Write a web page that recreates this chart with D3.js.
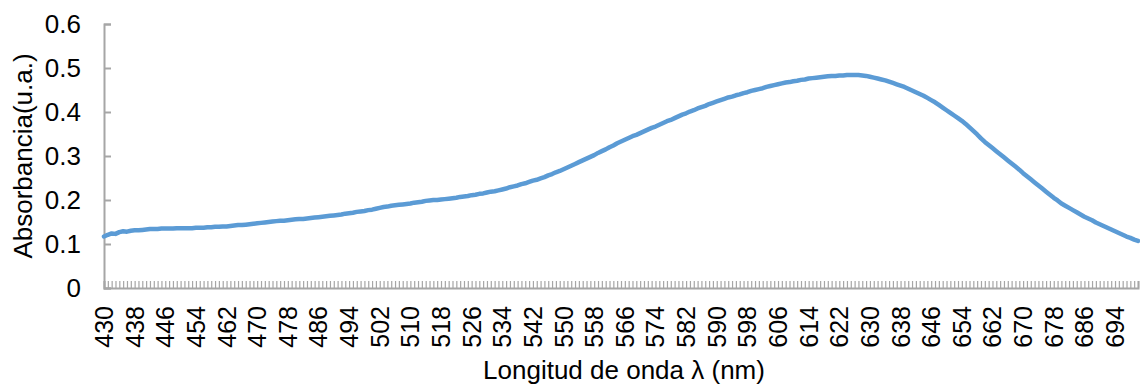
<!DOCTYPE html>
<html>
<head>
<meta charset="utf-8">
<script src="https://cdn.jsdelivr.net/npm/d3@7"></script>
<style>
  html, body { margin: 0; padding: 0; background: #fff; }
  svg { display: block; font-family: Arial, "Liberation Sans", sans-serif; }
</style>
</head>
<body>
<svg id="chart" width="1140" height="386"></svg>
<script>
// Wavelength scan, one reading per nanometre from 430 to 700 nm
const wavelengths = d3.range(430, 701);

const absorbance = [
  0.117, 0.121, 0.124, 0.123, 0.127, 0.129, 0.128, 0.130, 0.131, 0.131, // 430-439
  0.132, 0.133, 0.134, 0.134, 0.134, 0.135, 0.135, 0.135, 0.135, 0.136, // 440-449
  0.136, 0.136, 0.136, 0.136, 0.137, 0.137, 0.137, 0.138, 0.138, 0.139, // 450-459
  0.139, 0.140, 0.140, 0.141, 0.142, 0.143, 0.143, 0.144, 0.145, 0.146, // 460-469
  0.147, 0.148, 0.149, 0.150, 0.151, 0.152, 0.153, 0.153, 0.154, 0.155, // 470-479
  0.156, 0.157, 0.157, 0.158, 0.159, 0.160, 0.161, 0.162, 0.163, 0.164, // 480-489
  0.165, 0.166, 0.167, 0.169, 0.170, 0.171, 0.173, 0.174, 0.175, 0.177, // 490-499
  0.178, 0.180, 0.182, 0.184, 0.185, 0.187, 0.188, 0.189, 0.190, 0.191, // 500-509
  0.192, 0.194, 0.195, 0.196, 0.198, 0.199, 0.200, 0.200, 0.201, 0.202, // 510-519
  0.203, 0.204, 0.205, 0.207, 0.208, 0.209, 0.211, 0.212, 0.214, 0.215, // 520-529
  0.217, 0.219, 0.220, 0.222, 0.224, 0.226, 0.229, 0.231, 0.233, 0.236, // 530-539
  0.238, 0.241, 0.244, 0.246, 0.249, 0.252, 0.256, 0.259, 0.263, 0.266, // 540-549
  0.270, 0.274, 0.278, 0.282, 0.286, 0.290, 0.294, 0.298, 0.302, 0.307, // 550-559
  0.311, 0.315, 0.320, 0.324, 0.329, 0.333, 0.337, 0.341, 0.345, 0.348, // 560-569
  0.352, 0.356, 0.360, 0.364, 0.367, 0.371, 0.375, 0.379, 0.382, 0.386, // 570-579
  0.390, 0.394, 0.397, 0.401, 0.404, 0.408, 0.411, 0.414, 0.418, 0.421, // 580-589
  0.424, 0.427, 0.430, 0.433, 0.435, 0.438, 0.440, 0.443, 0.445, 0.448, // 590-599
  0.450, 0.452, 0.454, 0.457, 0.459, 0.461, 0.463, 0.465, 0.467, 0.468, // 600-609
  0.470, 0.471, 0.473, 0.474, 0.476, 0.477, 0.478, 0.479, 0.480, 0.481, // 610-619
  0.482, 0.482, 0.483, 0.483, 0.484, 0.484, 0.484, 0.484, 0.483, 0.482, // 620-629
  0.480, 0.478, 0.476, 0.474, 0.472, 0.469, 0.466, 0.463, 0.460, 0.457, // 630-639
  0.453, 0.449, 0.445, 0.441, 0.437, 0.432, 0.427, 0.422, 0.416, 0.410, // 640-649
  0.404, 0.398, 0.392, 0.386, 0.380, 0.373, 0.365, 0.357, 0.349, 0.340, // 650-659
  0.332, 0.325, 0.318, 0.311, 0.304, 0.297, 0.290, 0.283, 0.276, 0.269, // 660-669
  0.261, 0.254, 0.247, 0.240, 0.233, 0.226, 0.219, 0.212, 0.205, 0.199, // 670-679
  0.192, 0.187, 0.182, 0.177, 0.172, 0.167, 0.162, 0.158, 0.154, 0.149, // 680-689
  0.145, 0.141, 0.137, 0.133, 0.129, 0.125, 0.121, 0.117, 0.114, 0.110, // 690-699
  0.107                                                                  // 700
];

const yTicks = [0, 0.1, 0.2, 0.3, 0.4, 0.5, 0.6];
const labelStep = 8;   // every 8th wavelength gets a label

const xTitle = "Longitud de onda λ (nm)";
const yTitle = "Absorbancia(u.a.)";

const svg = d3.select("#chart");
const plotLeft = 104, plotRight = 1138, plotTop = 24, plotBottom = 288;
const axisColor = "#a6a6a6";

const x = d3.scalePoint().domain(wavelengths).range([plotLeft, plotRight]);
const y = d3.scaleLinear().domain([0, 0.6]).range([plotBottom, plotTop]);

// Y axis: ticks point into the plot area
const yAxis = svg.append("g")
  .attr("transform", `translate(${plotLeft},0)`)
  .call(d3.axisLeft(y).tickValues(yTicks).tickSize(-7).tickPadding(0)
    .tickFormat(d => d === 0 ? "0" : d3.format(".1f")(d)));
yAxis.select(".domain").attr("stroke", axisColor).attr("stroke-width", 2);
yAxis.selectAll(".tick line").attr("stroke", axisColor).attr("stroke-width", 2);
yAxis.selectAll(".tick text")
  .attr("x", -23)
  .attr("fill", "#000")
  .style("font-size", "26px")
  .style("font-family", "Arial, 'Liberation Sans', sans-serif");

// X axis: one small tick per wavelength, pointing up into the plot
const xAxis = svg.append("g")
  .attr("transform", `translate(0,${plotBottom})`)
  .call(d3.axisBottom(x).tickSize(-7).tickFormat(""));
xAxis.select(".domain").attr("stroke", axisColor).attr("stroke-width", 2);
xAxis.selectAll(".tick line").attr("stroke", axisColor).attr("stroke-width", 1.2);

// Rotated wavelength labels
svg.append("g")
  .selectAll("text")
  .data(wavelengths.filter((d, i) => i % labelStep === 0))
  .join("text")
  .attr("transform", d => `translate(${x(d)},306) rotate(-90)`)
  .attr("text-anchor", "end")
  .attr("dy", "0.36em")
  .attr("fill", "#000")
  .style("font-size", "25px")
  .text(d => d);

// Absorbance curve
const line = d3.line()
  .x((d, i) => x(wavelengths[i]))
  .y(d => y(d));

svg.append("path")
  .datum(absorbance)
  .attr("d", line)
  .attr("fill", "none")
  .attr("stroke", "#5b9bd5")
  .attr("stroke-width", 4.5)
  .attr("stroke-linejoin", "round")
  .attr("stroke-linecap", "round");

// Axis titles
svg.append("text")
  .attr("x", 624)
  .attr("y", 379)
  .attr("text-anchor", "middle")
  .attr("fill", "#000")
  .style("font-size", "26px")
  .text(xTitle);

svg.append("text")
  .attr("transform", "translate(32,156) rotate(-90)")
  .attr("text-anchor", "middle")
  .attr("fill", "#000")
  .style("font-size", "26px")
  .text(yTitle);
</script>
</body>
</html>
